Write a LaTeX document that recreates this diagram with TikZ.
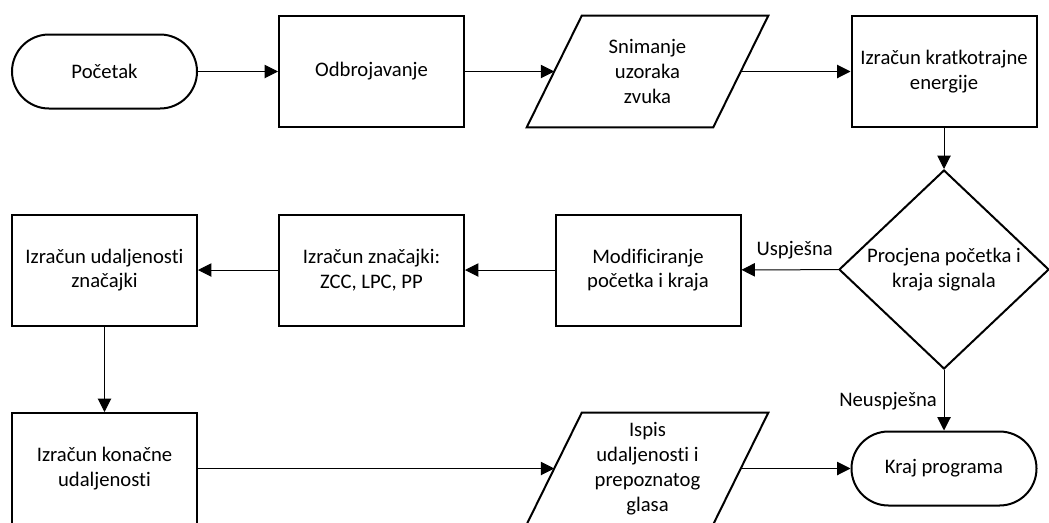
\documentclass[tikz,border=0pt]{standalone}
\usepackage{fontspec}
\setmainfont{Carlito}[Ligatures={NoCommon}]
\usetikzlibrary{shapes.geometric,arrows.meta}
\begin{document}
\begin{tikzpicture}[x=0.75pt,y=-0.75pt,
  font=\fontsize{15.5}{18.6}\selectfont,
  border/.style={draw,line width=1.5pt},
  box/.style={border,minimum width=138.75pt,minimum height=83.25pt,align=center,inner sep=0pt},
  term/.style={border,rounded corners=27.75pt,minimum width=138.75pt,minimum height=55.5pt,align=center,inner sep=0pt},
  io/.style={minimum width=139.5pt,minimum height=83.25pt,align=center,inner sep=0pt},
  dec/.style={border,diamond,minimum width=157.5pt,minimum height=149.25pt,align=center,inner sep=0pt},
  conn/.style={line width=0.75pt,-{Triangle[length=10pt,width=10pt]}},
  lbl/.style={inner sep=0pt}
]
\useasboundingbox (0,0) rectangle (1049,522);
\clip (0,0) rectangle (1049,522);

\node[term] (start) at (104.5,71.5) {Početak};
\node[box] (odb) at (371.5,71.5) {Odbrojavanje};
\node[io] (snim) at (647.5,71.5) {Snimanje\\uzoraka\\zvuka};
\draw[border] ([xshift=20.625pt]snim.north west) -- ([xshift=20.625pt]snim.north east)
  -- ([xshift=-20.625pt]snim.south east) -- ([xshift=-20.625pt]snim.south west) -- cycle;
\node[box] (kratk) at (944,71.5) {Izračun kratkotrajne\\energije};
\node[dec] (proc) at (944,269.5) {Procjena početka i\\kraja signala};
\node[box] (mod) at (648,270) {Modificiranje\\početka i kraja};
\node[box] (znac) at (371.5,270) {Izračun značajki:\\ZCC, LPC, PP};
\node[box] (udalj) at (104.5,270) {Izračun udaljenosti\\značajki};
\node[box] (konac) at (104.5,468.5) {Izračun konačne\\udaljenosti};
\node[io] (ispis) at (647.5,468.5) {Ispis\\udaljenosti i\\prepoznatog\\glasa};
\draw[border] ([xshift=20.625pt]ispis.north west) -- ([xshift=20.625pt]ispis.north east)
  -- ([xshift=-20.625pt]ispis.south east) -- ([xshift=-20.625pt]ispis.south west) -- cycle;
\node[term] (kraj) at (944,468.5) {Kraj programa};

\draw[conn] (start) -- (odb);
\draw[conn] (odb) -- (snim);
\draw[conn] (snim) -- (kratk);
\draw[conn] (kratk) -- (proc);
\draw[conn] (proc) -- node[lbl,above=8pt,pos=0.45] {Uspješna} (mod);
\draw[conn] (proc) -- node[lbl,left=5pt,pos=0.52] {Neuspješna} (kraj);
\draw[conn] (mod) -- (znac);
\draw[conn] (znac) -- (udalj);
\draw[conn] (udalj) -- (konac);
\draw[conn] (konac) -- (ispis);
\draw[conn] (ispis) -- (kraj);
\end{tikzpicture}
\end{document}
